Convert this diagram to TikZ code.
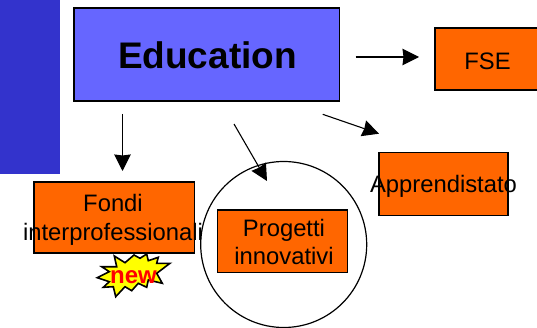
\documentclass[tikz,border=0pt]{standalone}
\usepackage{fontspec}
\setmainfont{Liberation Sans}
\usepackage{tikz}
\usetikzlibrary{arrows.meta, positioning}
\definecolor{eduorange}{RGB}{255,102,0}
\definecolor{edublue}{RGB}{102,102,255}
\definecolor{edudark}{RGB}{51,51,204}
\definecolor{newyellow}{RGB}{255,255,0}
\tikzset{
  orangebox/.style={draw=black, fill=eduorange, line width=1.3pt, inner sep=0pt, minimum width=#1},
  boxtext/.style={font=\fontsize{23.8}{28.6}\selectfont, align=center, inner sep=0pt},
  flow/.style={-{Stealth[length=16.5pt,width=16.5pt,inset=1pt]}, line width=1.1pt}
}

\begin{document}
\begin{tikzpicture}[x=1pt, y=-1pt]
  \useasboundingbox (0,0) rectangle (537,328);

  % Side band
  \fill[edudark] (0,0) rectangle (60,174);

  % Main box
  \node[orangebox=265.5pt, fill=edublue, minimum height=93pt] (education) at (206.75,54.5) {};
  \node[inner sep=0pt, font=\fontsize{37}{40}\selectfont\bfseries] (educationtext) at (207.5,55.5) {Education};

  % Circle round the third box
  \node[draw, circle, line width=1.2pt, minimum size=166pt, inner sep=0pt] (ring) at (283.7,244.5) {};

  % Burst, behind the Fondi box
  \draw[fill=newyellow, line width=1.6pt, line join=miter]
    (97.3,277.7) -- (109.3,271.7) -- (101.7,266.7) -- (116.7,266.7) -- (114.3,256)
    -- (125,262.7) -- (134,255) -- (140,258.3) -- (146.7,254) -- (148.3,260.7)
    -- (158.3,257.3) -- (156.7,263.3) -- (170,263.3) -- (156.7,273.3) -- (162.3,283.3)
    -- (148.3,280) -- (146.7,287.3) -- (138.3,283.3) -- (131.7,290.7) -- (125,286.7)
    -- (115.7,296.7) -- (113.3,286.7) -- (103.3,287.3) -- (109.3,281.7) -- cycle;

  % Target boxes
  \node[orangebox=105pt, minimum height=62pt] (fse) at (487.5,59) {};
  \node[boxtext] (fsetext) at (487.5,61) {FSE};
  \node[orangebox=160.5pt, minimum height=71pt] (fondi) at (114.25,217.5) {};
  \node[boxtext] (fonditext) at (113,220) {Fondi~\\interprofessionali};
  \node[orangebox=130pt, minimum height=62.7pt] (progetti) at (282.7,241.3) {};
  \node[boxtext] (progettitext) at (284,242) {Progetti~\\innovativi};
  \node[orangebox=129pt, minimum height=63.4pt] (apprendistato) at (443.5,184) {};
  \node[boxtext] (apprendistatotext) at (443.5,186.5) {Apprendistato};

  \node[text=red, font=\fontsize{24}{28}\selectfont\bfseries, inner sep=0pt, anchor=base] (new) at (133.5,283.3) {new};

  % Arrow ends
  \coordinate (fromfse) at (355.5,57);
  \coordinate (tofse) at (419,57);
  \coordinate (fromfondi) at (122.5,114);
  \coordinate (tofondi) at (122.5,171);
  \coordinate (fromprogetti) at (234,124);
  \coordinate (toprogetti) at (267,181);
  \coordinate (fromappr) at (322.7,114.3);
  \coordinate (toappr) at (379,133.7);

  \draw[flow] (fromfse) -- (tofse);
  \draw[flow] (fromfondi) -- (tofondi);
  \draw[flow] (fromprogetti) -- (toprogetti);
  \draw[flow] (fromappr) -- (toappr);
\end{tikzpicture}
\end{document}
